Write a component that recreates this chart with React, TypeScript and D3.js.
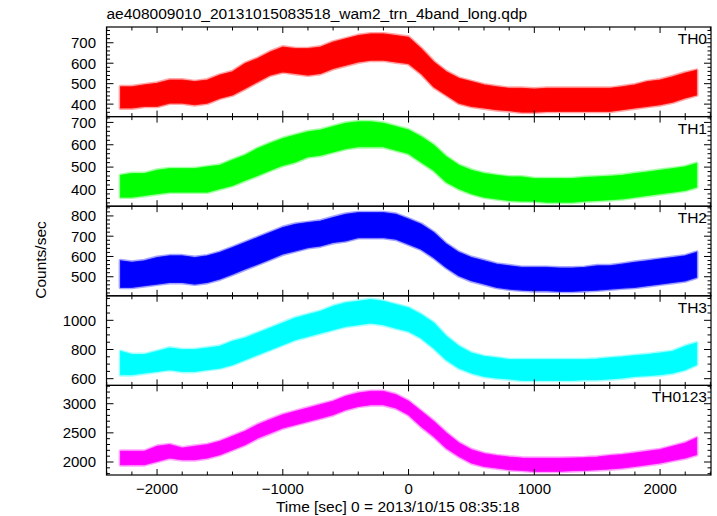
import React from "react";
import * as d3 from "d3";

const TITLE = "ae408009010_20131015083518_wam2_trn_4band_long.qdp";
const X_LABEL = "Time [sec] 0 = 2013/10/15 08:35:18";
const Y_LABEL = "Counts/sec";
const CHANNELS = ["TH0", "TH1", "TH2", "TH3", "TH0123"];
const COLORS = ["#ff0000", "#00ff00", "#0000ff", "#00ffff", "#ff00ff"];
const X_TICKS = [-2000, -1000, 0, 1000, 2000];

const TIMES = [-2290, -2200, -2100, -2000, -1900, -1800, -1700, -1600, -1500, -1400, -1300, -1200, -1100, -1000, -900, -800, -700, -600, -500, -400, -300, -200, -100, 0, 100, 200, 300, 400, 500, 600, 700, 800, 900, 1000, 1100, 1200, 1300, 1400, 1500, 1600, 1700, 1800, 1900, 2000, 2100, 2200, 2290];

const TH0_HI = [485, 485, 494, 502, 518, 518, 510, 518, 542, 558, 598, 623, 655, 679, 671, 671, 679, 703, 719, 735, 743, 743, 735, 727, 671, 606, 558, 526, 510, 494, 485, 477, 477, 474, 477, 477, 477, 477, 477, 477, 485, 494, 510, 518, 534, 552, 565];
const TH0_LO = [381, 381, 389, 389, 405, 405, 397, 405, 429, 445, 477, 510, 542, 558, 550, 542, 550, 574, 590, 606, 615, 615, 606, 598, 550, 485, 445, 405, 389, 381, 373, 368, 361, 361, 365, 365, 365, 365, 365, 365, 373, 381, 389, 397, 410, 430, 445];

const TH1_HI = [463, 471, 471, 486, 493, 493, 493, 501, 508, 531, 553, 583, 606, 628, 643, 658, 666, 681, 696, 703, 703, 696, 681, 666, 636, 598, 546, 508, 486, 471, 463, 456, 456, 448, 448, 448, 448, 453, 456, 459, 463, 471, 478, 486, 493, 501, 516];
const TH1_LO = [366, 366, 373, 381, 388, 388, 388, 388, 403, 418, 441, 463, 486, 508, 523, 546, 553, 568, 583, 591, 591, 591, 576, 561, 523, 486, 433, 403, 381, 366, 358, 351, 348, 348, 343, 343, 343, 348, 351, 354, 358, 366, 373, 381, 388, 396, 411];

const TH2_HI = [579, 571, 579, 595, 603, 603, 595, 603, 620, 644, 669, 693, 718, 743, 759, 767, 775, 792, 808, 816, 816, 816, 808, 784, 759, 718, 661, 620, 595, 579, 562, 554, 546, 546, 546, 543, 543, 546, 554, 554, 562, 571, 579, 587, 595, 603, 620];
const TH2_LO = [448, 448, 456, 464, 472, 472, 464, 472, 489, 513, 538, 562, 587, 612, 628, 644, 652, 669, 677, 693, 693, 693, 685, 661, 636, 595, 546, 505, 480, 464, 448, 439, 434, 431, 431, 428, 428, 431, 434, 439, 444, 448, 456, 464, 472, 480, 497];

const TH3_HI = [787, 765, 765, 787, 810, 799, 799, 810, 822, 856, 879, 913, 947, 982, 1016, 1039, 1062, 1096, 1119, 1130, 1142, 1130, 1107, 1085, 1039, 982, 890, 822, 776, 753, 742, 730, 730, 730, 730, 730, 730, 730, 735, 742, 749, 758, 765, 776, 787, 822, 845];
const TH3_LO = [627, 627, 639, 650, 662, 650, 650, 662, 673, 696, 730, 765, 799, 833, 867, 890, 913, 936, 959, 970, 982, 970, 947, 925, 879, 810, 730, 673, 639, 616, 605, 598, 589, 589, 589, 589, 589, 593, 593, 598, 605, 616, 621, 627, 639, 662, 696];

const TH0123_HI = [2183, 2183, 2183, 2269, 2297, 2240, 2269, 2297, 2354, 2440, 2526, 2640, 2726, 2811, 2869, 2926, 2983, 3040, 3126, 3183, 3211, 3211, 3154, 3040, 2869, 2697, 2497, 2326, 2211, 2143, 2109, 2086, 2069, 2063, 2063, 2063, 2069, 2074, 2086, 2109, 2126, 2154, 2183, 2211, 2269, 2326, 2411];
const TH0123_LO = [1954, 1954, 1954, 2011, 2069, 2040, 2040, 2069, 2126, 2211, 2297, 2411, 2497, 2583, 2640, 2697, 2754, 2811, 2897, 2954, 2983, 2983, 2926, 2811, 2611, 2440, 2240, 2097, 1983, 1926, 1897, 1869, 1857, 1840, 1840, 1840, 1851, 1857, 1869, 1880, 1897, 1926, 1954, 1983, 2029, 2069, 2126];

const Y_DOMAINS = [[339, 777], [325, 726], [406, 848], [554, 1168], [1777, 3314]];
const Y_MAJOR = [[400, 500, 600, 700], [400, 500, 600, 700], [500, 600, 700, 800], [600, 800, 1000], [2000, 2500, 3000]];
const Y_MINOR_STEP = [20, 20, 20, 50, 100];
const Y_MAJOR_STEP = [100, 100, 100, 200, 500];

const HIGHS = [TH0_HI, TH1_HI, TH2_HI, TH3_HI, TH0123_HI];
const LOWS = [TH0_LO, TH1_LO, TH2_LO, TH3_LO, TH0123_LO];

const W = 717, H = 516;
const L = 106.5, R = 711, TOP = 27, PH = 89.6;
const FONT = "'Liberation Sans', Arial, Helvetica, sans-serif";

export default function App() {
  const x = d3.scaleLinear().domain([-2402, 2405]).range([L, R]);
  const xMinor = d3.range(-2400, 2401, 200);
  const panels = CHANNELS.map((name, i) => {
    const top = TOP + i * PH;
    const bottom = top + PH;
    const y = d3.scaleLinear().domain(Y_DOMAINS[i]).range([bottom, top]);
    const rows = TIMES.map((t, k) => ({ t, hi: HIGHS[i][k], lo: LOWS[i][k] }));
    const area = d3.area<any>().x(d => x(d.t)).y0(d => y(d.lo)).y1(d => y(d.hi))(rows) || "";
    const [d0, d1] = Y_DOMAINS[i];
    const minor = d3.range(Math.ceil(d0 / Y_MINOR_STEP[i]) * Y_MINOR_STEP[i], d1, Y_MINOR_STEP[i]);
    return { name, i, top, bottom, y, area, minor };
  });

  return (
    <svg width={W} height={H} style={{ position: "absolute", left: 0, top: 0, background: "#fff" }} fontFamily={FONT}>
      <rect x={0} y={0} width={W} height={H} fill="#fff" />
      <text x={L} y={19} fontSize={15.5} fill="#000">{TITLE}</text>
      {panels.map(p => (
        <g key={p.name}>
          <path d={p.area} fill="none" stroke={COLORS[p.i]} strokeOpacity={0.35} strokeWidth={4} strokeLinejoin="round" />
          <path d={p.area} fill={COLORS[p.i]} stroke={COLORS[p.i]} strokeOpacity={0.8} strokeWidth={1.2} />
          {p.minor.map(v => {
            const major = Math.abs(v % Y_MAJOR_STEP[p.i]) < 1e-6;
            const len = major ? 7 : 3.5;
            const yy = p.y(v);
            return (
              <g key={"y" + v}>
                <line x1={L} x2={L + len} y1={yy} y2={yy} stroke="#000" strokeWidth={1} />
                <line x1={R} x2={R - len} y1={yy} y2={yy} stroke="#000" strokeWidth={1} />
              </g>
            );
          })}
          {Y_MAJOR[p.i].map(v => (
            <text key={"l" + v} x={96} y={p.y(v)} dy="0.36em" textAnchor="end" fontSize={15} fill="#000">{v}</text>
          ))}
          {xMinor.map(v => {
            const major = v % 1000 === 0;
            const len = major ? 6 : 3.5;
            const xx = x(v);
            return (
              <g key={"x" + v}>
                <line x1={xx} x2={xx} y1={p.top} y2={p.top + len} stroke="#000" strokeWidth={1} />
                <line x1={xx} x2={xx} y1={p.bottom} y2={p.bottom - len} stroke="#000" strokeWidth={1} />
              </g>
            );
          })}
          <rect x={L} y={p.top} width={R - L} height={PH} fill="none" stroke="#000" strokeWidth={1.2} />
          <text x={707} y={p.top + 17} textAnchor="end" fontSize={15.5} fill="#000">{p.name}</text>
        </g>
      ))}
      {X_TICKS.map(v => (
        <text key={"xt" + v} x={x(v)} y={493.5} textAnchor="middle" fontSize={15} fill="#000">{v < 0 ? "\u2212" + Math.abs(v) : String(v)}</text>
      ))}
      <text x={(L + R) / 2 - 11} y={512} textAnchor="middle" fontSize={15.5} fill="#000">{X_LABEL}</text>
      <text transform={`translate(46,260) rotate(-90)`} textAnchor="middle" fontSize={15.5} fill="#000">{Y_LABEL}</text>
    </svg>
  );
}
